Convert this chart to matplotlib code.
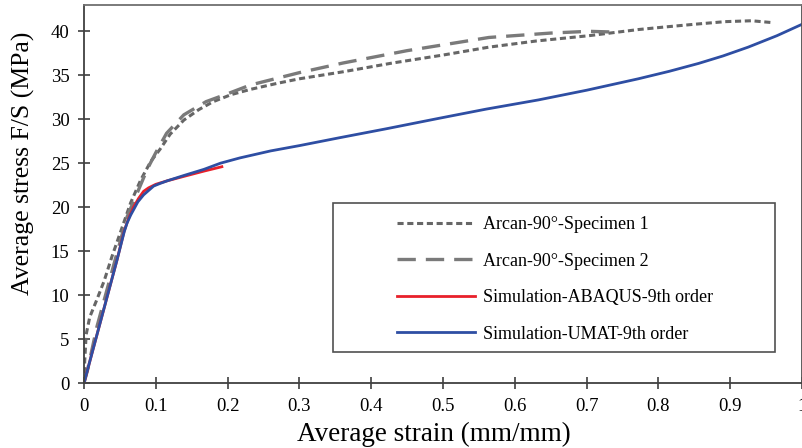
import matplotlib.pyplot as plt
from matplotlib.patches import Rectangle

plt.rcParams['font.family'] = ['Liberation Serif', 'DejaVu Serif']

# Arcan 90 deg - specimen 1 (dotted)
strain_s1 = [0, 0.001, 0.003, 0.008, 0.018, 0.028, 0.039, 0.051, 0.065, 0.079, 0.093,
             0.106, 0.12, 0.139, 0.16, 0.18, 0.205, 0.232, 0.27, 0.3, 0.361, 0.43,
             0.5, 0.564, 0.63, 0.703, 0.772, 0.81, 0.85, 0.893, 0.93, 0.957]
stress_s1 = [0, 2.5, 5.5, 7.5, 9.5, 11.6, 14.4, 17.2, 20.5, 23.1, 25.2,
             26.6, 28.3, 29.9, 31.1, 32.0, 32.8, 33.4, 34.1, 34.6, 35.4, 36.4,
             37.3, 38.2, 38.9, 39.5, 40.2, 40.5, 40.8, 41.1, 41.2, 41.0]

# Arcan 90 deg - specimen 2 (dashed)
strain_s2 = [0, 0.005, 0.018, 0.032, 0.046, 0.06, 0.074, 0.088, 0.1, 0.115, 0.139, 0.17,
             0.2, 0.232, 0.3, 0.361, 0.45, 0.564, 0.65, 0.703, 0.744]
stress_s2 = [0, 1.5, 6.4, 10.6, 14.8, 18.9, 21.6, 24.3, 26.2, 28.4, 30.5, 32.0,
             32.9, 33.9, 35.3, 36.4, 37.8, 39.3, 39.8, 40.0, 39.9]

# Simulation ABAQUS 9th order (red)
strain_abq = [0, 0.046, 0.056, 0.062, 0.069, 0.076, 0.083, 0.09, 0.1, 0.116, 0.139,
              0.167, 0.192]
stress_abq = [0, 14.0, 17.3, 18.7, 20.0, 21.0, 21.8, 22.2, 22.6, 23.0, 23.5,
              24.1, 24.6]

# Simulation UMAT 9th order (blue)
strain_umat = [0, 0.046, 0.056, 0.06, 0.065, 0.069, 0.075, 0.083, 0.09, 0.097, 0.106,
               0.116, 0.139, 0.167, 0.19, 0.217, 0.26, 0.3, 0.356, 0.42, 0.494, 0.56,
               0.633, 0.7, 0.772, 0.815, 0.856, 0.89, 0.925, 0.965, 1.0]
stress_umat = [0, 14.0, 17.2, 18.2, 19.1, 19.7, 20.6, 21.4, 21.9, 22.4, 22.7,
               23.0, 23.6, 24.3, 25.0, 25.6, 26.4, 27.0, 27.9, 28.9, 30.1, 31.15,
               32.2, 33.3, 34.6, 35.45, 36.35, 37.2, 38.2, 39.5, 40.8]

labels = ['Arcan-90°-Specimen 1', 'Arcan-90°-Specimen 2',
          'Simulation-ABAQUS-9th order', 'Simulation-UMAT-9th order']

fig = plt.figure(figsize=(8.03, 4.48), dpi=100)
ax = fig.add_axes([0.1046, 0.145, 0.8942, 0.844])

ax.plot(strain_s1, stress_s1, color='#666666', lw=2.2, dashes=(2.0, 1.2), label=labels[0])
ax.plot(strain_s2, stress_s2, color='#7a7a7a', lw=2.4, dashes=(5.5, 3.0), label=labels[1])
ax.plot(strain_abq, stress_abq, color='#e8202a', lw=2.0, label=labels[2])
ax.plot(strain_umat, stress_umat, color='#2e4ea3', lw=2.0, label=labels[3])

ax.set_xlim(0, 1)
ax.set_ylim(0, 43)
ax.set_xticks([0, 0.1, 0.2, 0.3, 0.4, 0.5, 0.6, 0.7, 0.8, 0.9, 1])
ax.set_xticklabels(['0', '0.1', '0.2', '0.3', '0.4', '0.5', '0.6', '0.7', '0.8', '0.9', '1'])
ax.set_yticks(range(0, 45, 5))
ax.tick_params(direction='inout', length=9, width=1.2, color='#404040',
               labelsize=13.5)
ax.tick_params(axis='x', pad=6)
ax.tick_params(axis='y', pad=6)
for s in ax.spines.values():
    s.set_color('#404040')
    s.set_linewidth(1.3)
ax.spines['top'].set_color('#707070')
ax.spines['right'].set_color('#505050')

ax.set_xlabel('Average strain (mm/mm)', fontsize=19.5)
ax.xaxis.set_label_coords(0.487, -0.103)
ax.set_ylabel('Average stress F/S (MPa)', fontsize=18.5)
ax.yaxis.set_label_coords(-0.068, 0.582)

leg = ax.legend(loc='upper left', bbox_to_anchor=(0.436, 0.441), frameon=False,
                handlelength=4.3, handletextpad=0.45, labelspacing=1.08,
                fontsize=13, borderaxespad=0, borderpad=0)
ax.add_patch(Rectangle((0.347, 0.082), 0.615, 0.394, transform=ax.transAxes,
                       fill=False, edgecolor='#505050', lw=1.2, zorder=5))

fig.savefig('out.png', dpi=100)
